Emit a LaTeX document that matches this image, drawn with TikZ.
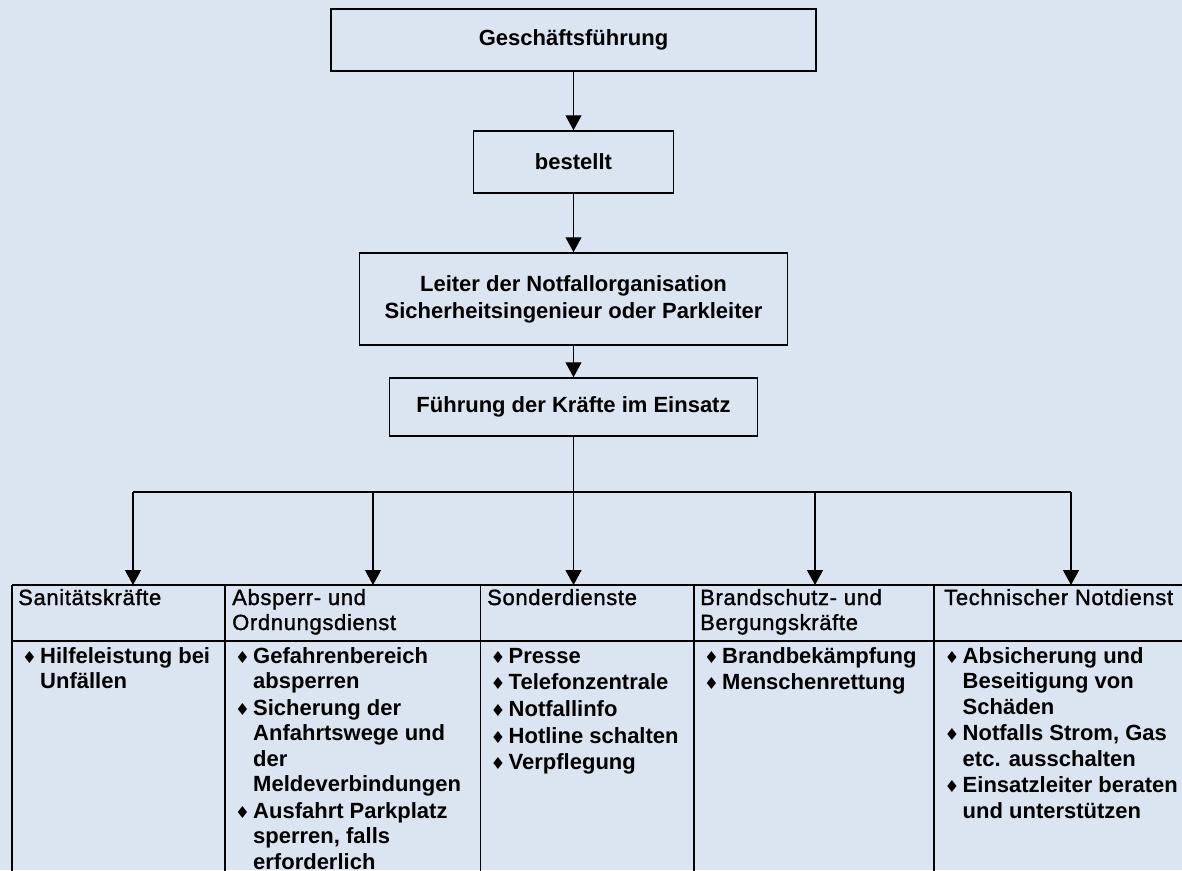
\documentclass[tikz,border=0pt]{standalone}
\usepackage{fontspec}
\setmainfont{Liberation Sans}
\newfontfamily\hdrfont[LetterSpace=3.0,FakeBold=1.3]{Liberation Sans}
\newfontfamily\bulfont{DejaVu Sans}
\usetikzlibrary{arrows.meta}
\definecolor{bgblue}{RGB}{219,229,241}
\newcommand{\bul}{\makebox[18pt][l]{\bulfont\fontsize{16.5}{16.5}\selectfont ♦}}
\newcommand{\itemfont}{\fontsize{22}{25.5}\selectfont\bfseries}
\newcommand{\hfont}{\hdrfont\fontsize{22}{25}\selectfont}
\newcommand{\isep}{\\[1.2pt]}
\begin{document}
\begin{tikzpicture}[x=1pt,y=-1pt,
  box/.style={draw, line width=1.5pt, inner sep=0pt, font=\fontsize{22}{27}\selectfont\bfseries, align=center},
  conn/.style={line width=1.2pt, -{Triangle[length=15pt,width=16pt]}},
  bus/.style={line width=1.2pt},
  gridline/.style={line width=1.5pt},
  hdr/.style={anchor=base west, inner sep=0pt, font=\hfont},
  itm/.style={anchor=base west, inner sep=0pt, font=\itemfont}]
\fill[bgblue] (0,0) rectangle (1182,870);
\useasboundingbox (0,0) rectangle (1182,870);

% boxes
\node[box, minimum width=485pt, minimum height=62pt] (gf) at (573.5,40) {Geschäftsführung};
\node[box, minimum width=200pt, minimum height=62pt] (best) at (573.5,162) {bestellt};
\node[box, minimum width=428pt, minimum height=92pt] (leit) at (573.5,299) {Leiter der Notfallorganisation\\Sicherheitsingenieur oder Parkleiter};
\node[box, minimum width=368pt, minimum height=58pt] (fk) at (573.5,407) {Führung der Kräfte im Einsatz};

% coordinates
\coordinate (b1) at (133,492);
\coordinate (b2) at (373,492);
\coordinate (b4) at (815,492);
\coordinate (b5) at (1071,492);
\coordinate (t1) at (133,585);
\coordinate (t2) at (373,585);
\coordinate (t3) at (573.5,585);
\coordinate (t4) at (815,585);
\coordinate (t5) at (1071,585);

% connectors
\draw[conn] (gf) -- (best);
\draw[conn] (best) -- (leit);
\draw[conn] (leit) -- (fk);
\draw[bus] (b1) -- (b5);
\draw[conn] (fk.south) -- (t3);
\draw[conn] (b1) -- (t1);
\draw[conn] (b2) -- (t2);
\draw[conn] (b4) -- (t4);
\draw[conn] (b5) -- (t5);

% table grid
\draw[gridline] (12,585) -- (1182,585);
\draw[gridline] (12,641) -- (1182,641);
\foreach \x in {12,225,480.5,694,934} \draw[gridline] (\x,585) -- (\x,875);

% headers
\node[hdr] (h1) at (18,605) {Sanitätskräfte};
\node[hdr] (h2) at (232,605) {\begin{tabular}[t]{@{}l@{}}Absperr- und\\Ordnungsdienst\end{tabular}};
\node[hdr] (h3) at (487,605) {Sonderdienste};
\node[hdr] (h4) at (700,605) {\begin{tabular}[t]{@{}l@{}}Brandschutz- und\\Bergungskräfte\end{tabular}};
\node[hdr] (h5) at (944,605) {Technischer Notdienst};

% items
\node[itm] (c1) at (22,663) {\begin{tabular}[t]{@{}l@{}l@{}}
\bul & Hilfeleistung bei\\ & Unfällen\end{tabular}};
\node[itm] (c2) at (235,663) {\begin{tabular}[t]{@{}l@{}l@{}}
\bul & Gefahrenbereich\\ & absperren\isep
\bul & Sicherung der\\ & Anfahrtswege und\\ & der\\ & Meldeverbindungen\isep
\bul & Ausfahrt Parkplatz\\ & sperren, falls\\ & erforderlich\end{tabular}};
\node[itm] (c3) at (490.5,663) {\begin{tabular}[t]{@{}l@{}l@{}}
\bul & Presse\isep
\bul & Telefonzentrale\isep
\bul & Notfallinfo\isep
\bul & Hotline schalten\isep
\bul & Verpflegung\end{tabular}};
\node[itm] (c4) at (704,663) {\begin{tabular}[t]{@{}l@{}l@{}}
\bul & Brandbekämpfung\isep
\bul & Menschenrettung\end{tabular}};
\node[itm] (c5) at (944.5,663) {\begin{tabular}[t]{@{}l@{}l@{}}
\bul & Absicherung und\\ & Beseitigung von\\ & Schäden\isep
\bul & Notfalls Strom, Gas\\ & etc. ausschalten\isep
\bul & Einsatzleiter beraten\\ & und unterstützen\end{tabular}};
\end{tikzpicture}
\end{document}
